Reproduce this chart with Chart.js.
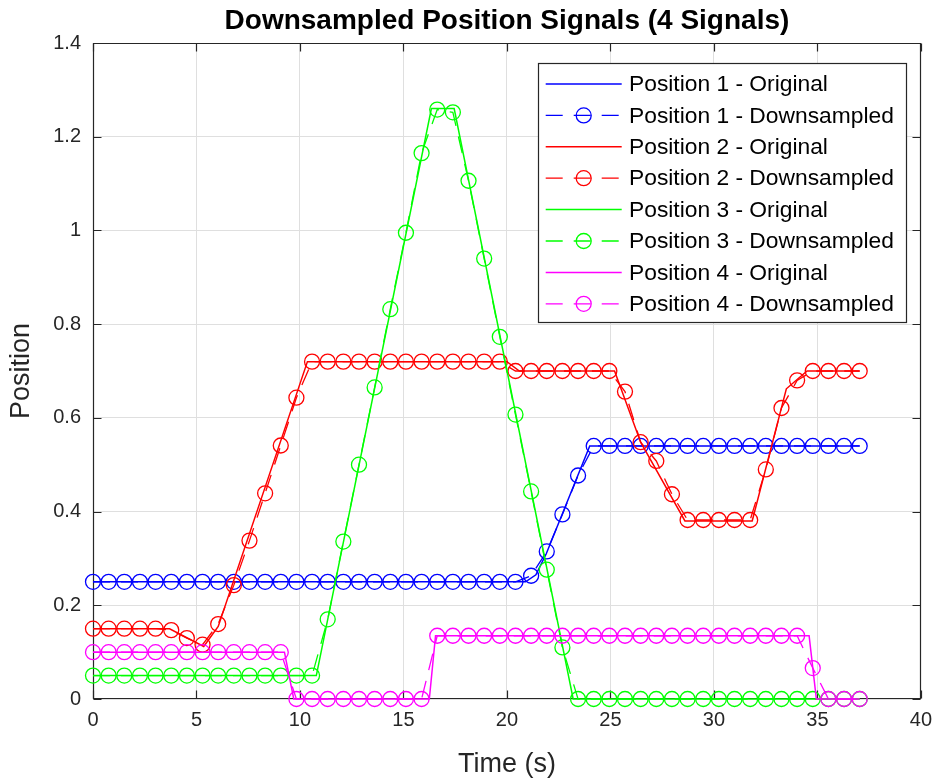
<!DOCTYPE html>
<html>
<head>
<meta charset="utf-8">
<title>Downsampled Position Signals</title>
<script src="https://cdn.jsdelivr.net/npm/chart.js@4.4.1/dist/chart.umd.min.js"></script>
<style>
  html, body { margin: 0; padding: 0; background: #ffffff; }
  #wrap { width: 941px; height: 778px; position: relative; }
</style>
</head>
<body>
<div id="wrap"><canvas id="chart" width="941" height="778"></canvas></div>
<script>
// ---- Downsampled samples (time in s) ----
const sampleTimes = [
  0, 0.756, 1.512, 2.268, 3.024, 3.78, 4.536, 5.292, 6.048, 6.804,
  7.56, 8.316, 9.072, 9.828, 10.584, 11.34, 12.096, 12.852, 13.608, 14.364,
  15.12, 15.876, 16.632, 17.388, 18.144, 18.9, 19.656, 20.412, 21.168, 21.924,
  22.68, 23.436, 24.192, 24.948, 25.704, 26.46, 27.216, 27.972, 28.728, 29.484,
  30.24, 30.996, 31.752, 32.508, 33.264, 34.02, 34.776, 35.532, 36.288, 37.044
];

const pos1Down = [
  0.25, 0.25, 0.25, 0.25, 0.25, 0.25, 0.25, 0.25, 0.25, 0.25,
  0.25, 0.25, 0.25, 0.25, 0.25, 0.25, 0.25, 0.25, 0.25, 0.25,
  0.25, 0.25, 0.25, 0.25, 0.25, 0.25, 0.25, 0.25, 0.263, 0.315,
  0.394, 0.477, 0.54, 0.54, 0.54, 0.54, 0.54, 0.54, 0.54, 0.54,
  0.54, 0.54, 0.54, 0.54, 0.54, 0.54, 0.54, 0.54, 0.54, 0.54
];
const pos2Down = [
  0.15, 0.15, 0.15, 0.15, 0.15, 0.147, 0.13, 0.116, 0.16, 0.243,
  0.338, 0.439, 0.541, 0.643, 0.72, 0.72, 0.72, 0.72, 0.72, 0.72,
  0.72, 0.72, 0.72, 0.72, 0.72, 0.72, 0.72, 0.70, 0.70, 0.70,
  0.70, 0.70, 0.70, 0.70, 0.656, 0.548, 0.508, 0.437, 0.382, 0.382,
  0.382, 0.382, 0.382, 0.49, 0.621, 0.68, 0.70, 0.70, 0.70, 0.70
];
const pos3Down = [
  0.05, 0.05, 0.05, 0.05, 0.05, 0.05, 0.05, 0.05, 0.05, 0.05,
  0.05, 0.05, 0.05, 0.05, 0.05, 0.17, 0.336, 0.50, 0.665, 0.832,
  0.995, 1.165, 1.258, 1.252, 1.106, 0.94, 0.773, 0.607, 0.443, 0.276,
  0.11, 0, 0, 0, 0, 0, 0, 0, 0, 0,
  0, 0, 0, 0, 0, 0, 0, 0, 0, 0
];
const pos4Down = [
  0.10, 0.10, 0.10, 0.10, 0.10, 0.10, 0.10, 0.10, 0.10, 0.10,
  0.10, 0.10, 0.10, 0, 0, 0, 0, 0, 0, 0,
  0, 0, 0.135, 0.135, 0.135, 0.135, 0.135, 0.135, 0.135, 0.135,
  0.135, 0.135, 0.135, 0.135, 0.135, 0.135, 0.135, 0.135, 0.135, 0.135,
  0.135, 0.135, 0.135, 0.135, 0.135, 0.135, 0.066, 0, 0, 0
];

// ---- Original signals (breakpoints of the full-rate traces) ----
const pos1OrigT = [0, 20.9, 21.4, 21.9, 24.0, 37.044];
const pos1OrigV = [0.25, 0.25, 0.265, 0.31, 0.54, 0.54];

const pos2OrigT = [0, 3.7, 5.35, 6.05, 10.36, 20.0, 20.6, 25.2, 26.46, 28.6, 31.85, 33.5, 34.5, 37.044];
const pos2OrigV = [0.15, 0.15, 0.112, 0.155, 0.72, 0.72, 0.70, 0.70, 0.548, 0.38, 0.38, 0.662, 0.70, 0.70];

const pos3OrigT = [0, 10.79, 16.35, 17.45, 23.2, 37.044];
const pos3OrigV = [0.05, 0.05, 1.26, 1.26, 0, 0];

const pos4OrigT = [0, 9.25, 9.7, 16.25, 16.55, 34.6, 34.95, 37.044];
const pos4OrigV = [0.10, 0.10, 0, 0, 0.135, 0.135, 0, 0];

// ---- Axis ticks ----
const xTicks = [0, 5, 10, 15, 20, 25, 30, 35, 40];
const yTicks = [0, 0.2, 0.4, 0.6, 0.8, 1, 1.2, 1.4];

const seriesColors = ['#0000ff', '#ff0000', '#00ff00', '#ff00ff'];
const FONT = '"Liberation Sans", Arial, Helvetica, sans-serif';
const AXIS_COLOR = '#262626';
const DASH = [17, 11];

function pairs(xs, ys) {
  return xs.map((x, i) => ({ x: x, y: ys[i] }));
}

const origins = [
  [pos1OrigT, pos1OrigV], [pos2OrigT, pos2OrigV],
  [pos3OrigT, pos3OrigV], [pos4OrigT, pos4OrigV]
];
const downs = [pos1Down, pos2Down, pos3Down, pos4Down];

const datasets = [];
for (let i = 0; i < 4; i++) {
  const c = seriesColors[i];
  datasets.push({
    label: 'Position ' + (i + 1) + ' - Original',
    data: pairs(origins[i][0], origins[i][1]),
    borderColor: c,
    backgroundColor: c,
    borderWidth: 1.5,
    pointRadius: 0,
    pointHoverRadius: 0,
    tension: 0,
    fill: false,
    clip: false,
    order: 8 - 2 * i,
    isDown: false
  });
  datasets.push({
    label: 'Position ' + (i + 1) + ' - Downsampled',
    data: pairs(sampleTimes, downs[i]),
    borderColor: c,
    backgroundColor: 'rgba(0,0,0,0)',
    borderWidth: 1.3,
    borderDash: DASH,
    pointStyle: 'circle',
    pointRadius: 7.5,
    pointBorderWidth: 1.3,
    pointBorderColor: c,
    pointBackgroundColor: 'rgba(0,0,0,0)',
    pointHoverRadius: 7.5,
    tension: 0,
    fill: false,
    clip: false,
    order: 7 - 2 * i,
    isDown: true
  });
}

// Axes box with inward tick marks on all four sides
const boxPlugin = {
  id: 'boxTicks',
  beforeDatasetsDraw(chart) {
    const { ctx, chartArea: a, scales } = chart;
    const L = Math.round(a.left) + 0.5, R = Math.round(a.right) - 0.5;
    const T = Math.round(a.top) + 0.5, B = Math.round(a.bottom) - 0.5;
    const len = 8;
    ctx.save();
    ctx.strokeStyle = AXIS_COLOR;
    ctx.lineWidth = 1.2;
    ctx.beginPath();
    ctx.rect(L, T, R - L, B - T);
    ctx.stroke();
    ctx.beginPath();
    xTicks.forEach(v => {
      const px = Math.round(scales.x.getPixelForValue(v)) + 0.5;
      ctx.moveTo(px, B); ctx.lineTo(px, B - len);
      ctx.moveTo(px, T); ctx.lineTo(px, T + len);
    });
    yTicks.forEach(v => {
      const py = Math.round(scales.y.getPixelForValue(v)) + 0.5;
      ctx.moveTo(L, py); ctx.lineTo(L + len, py);
      ctx.moveTo(R, py); ctx.lineTo(R - len, py);
    });
    ctx.stroke();
    ctx.restore();
  }
};

// Boxed legend inside the upper-right corner of the plot
const legendPlugin = {
  id: 'insideLegend',
  afterDatasetsDraw(chart) {
    const { ctx } = chart;
    const box = { x: 538, y: 63, w: 368, h: 259 };
    const rowY0 = 84, rowStep = 31.4;
    const lineX0 = 545.7, lineX1 = 621.7, markX = 583.7, textX = 629;
    ctx.save();
    ctx.fillStyle = '#ffffff';
    ctx.fillRect(box.x, box.y, box.w, box.h);
    ctx.strokeStyle = AXIS_COLOR;
    ctx.lineWidth = 1.2;
    ctx.strokeRect(box.x + 0.5, box.y + 0.5, box.w, box.h);
    chart.data.datasets.forEach((ds, i) => {
      const y = rowY0 + i * rowStep;
      ctx.strokeStyle = ds.borderColor;
      ctx.lineWidth = ds.borderWidth;
      ctx.setLineDash(ds.isDown ? DASH : []);
      ctx.beginPath();
      ctx.moveTo(lineX0, y);
      ctx.lineTo(lineX1, y);
      ctx.stroke();
      ctx.setLineDash([]);
      if (ds.isDown) {
        ctx.lineWidth = ds.pointBorderWidth;
        ctx.beginPath();
        ctx.arc(markX, y, ds.pointRadius, 0, Math.PI * 2);
        ctx.stroke();
      }
      ctx.fillStyle = '#000000';
      ctx.font = '22.8px ' + FONT;
      ctx.textBaseline = 'middle';
      ctx.textAlign = 'left';
      ctx.fillText(ds.label, textX, y + 1);
    });
    ctx.restore();
  }
};

new Chart(document.getElementById('chart'), {
  type: 'line',
  data: { datasets: datasets },
  plugins: [boxPlugin, legendPlugin],
  options: {
    responsive: false,
    animation: false,
    devicePixelRatio: 1,
    layout: { padding: { left: 0, right: 16, top: 0, bottom: 0 } },
    plugins: {
      legend: { display: false },
      tooltip: { enabled: false },
      title: {
        display: true,
        text: 'Downsampled Position Signals (4 Signals)',
        color: '#000000',
        fullSize: false,
        font: { family: FONT, size: 28, weight: 'bold', lineHeight: 1.2 },
        padding: { top: 4, bottom: 5.4 }
      }
    },
    scales: {
      x: {
        type: 'linear',
        min: 0, max: 40,
        afterBuildTicks: s => { s.ticks = xTicks.map(v => ({ value: v })); },
        afterFit: s => { s.height = 79; },
        ticks: {
          color: AXIS_COLOR,
          font: { family: FONT, size: 20 },
          padding: 9,
          maxRotation: 0,
          callback: v => String(v)
        },
        grid: { color: '#dfdfdf', lineWidth: 1, drawTicks: false },
        border: { display: false },
        title: {
          display: true,
          text: 'Time (s)',
          color: AXIS_COLOR,
          font: { family: FONT, size: 27, lineHeight: 1 },
          padding: { top: 0, bottom: 0 }
        }
      },
      y: {
        type: 'linear',
        min: 0, max: 1.4,
        afterBuildTicks: s => { s.ticks = yTicks.map(v => ({ value: v })); },
        afterFit: s => { s.width = 93; },
        ticks: {
          color: AXIS_COLOR,
          font: { family: FONT, size: 20 },
          padding: 12,
          callback: v => String(Number(v.toFixed(1)))
        },
        grid: { color: '#dfdfdf', lineWidth: 1, drawTicks: false },
        border: { display: false },
        title: {
          display: true,
          text: 'Position',
          color: AXIS_COLOR,
          font: { family: FONT, size: 27, lineHeight: 1 },
          padding: { top: 8.5, bottom: 0 }
        }
      }
    }
  }
});
</script>
</body>
</html>
